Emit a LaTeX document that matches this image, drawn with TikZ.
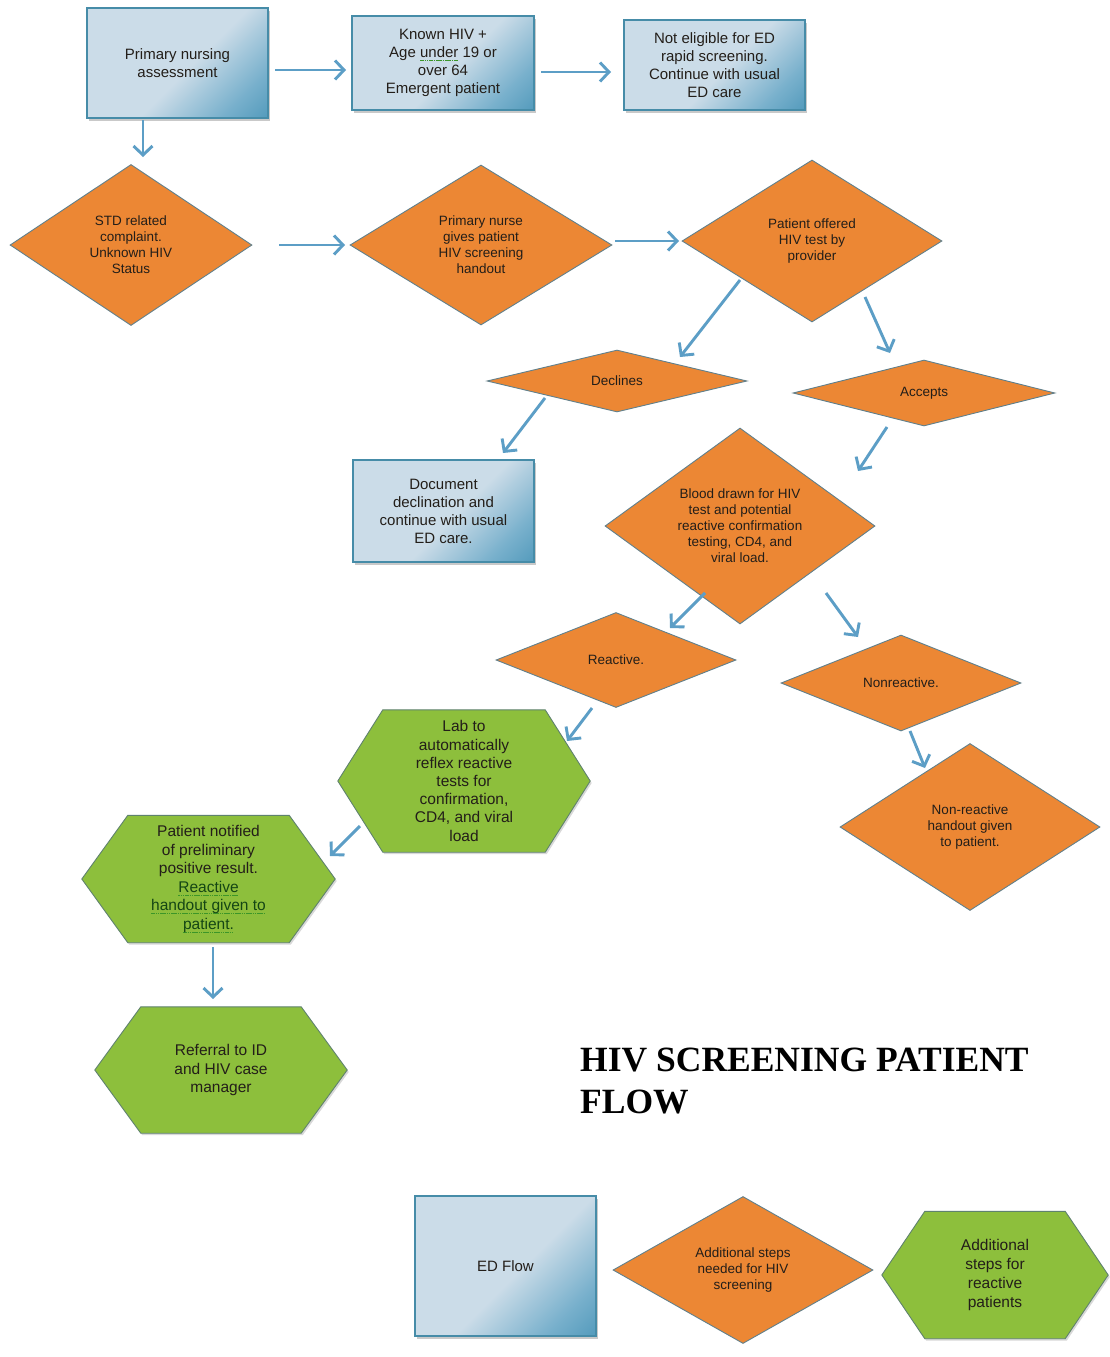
\documentclass[tikz,border=0pt]{standalone}
\usepackage{fontspec}
\setmainfont{Liberation Sans}
\newfontfamily\titlefont{Liberation Serif}
\usetikzlibrary{shapes.geometric,arrows.meta,shadows,backgrounds}

\definecolor{orng}{RGB}{236,135,52}
\definecolor{orngline}{RGB}{96,128,140}
\definecolor{grn}{RGB}{141,191,60}
\definecolor{grnline}{RGB}{95,130,110}
\definecolor{bxl}{RGB}{203,220,232}
\definecolor{bxm}{RGB}{120,176,204}
\definecolor{bxd}{RGB}{38,128,168}
\definecolor{bxline}{RGB}{70,140,168}
\definecolor{arrc}{RGB}{92,158,198}
\definecolor{txt}{RGB}{35,30,25}
\definecolor{gulc}{RGB}{60,150,40}
\definecolor{gtxt}{RGB}{20,70,20}

\pgfdeclarehorizontalshading{edblue}{100bp}{color(0bp)=(bxl); color(54bp)=(bxl); color(74bp)=(bxm); color(100bp)=(bxd)}

\newsavebox\gulbox
\newcommand\gul[1]{\sbox\gulbox{#1}\rlap{\raisebox{-0.4ex}{\textcolor{gulc}{\hbox to \wd\gulbox{\xleaders\hbox{\rule{1.6pt}{0.8pt}\hspace{0.6pt}}\hfill}}}}\usebox\gulbox}
\newcommand\hexof[2]{\path[hexpath] (#1.west) -- ([xshift=#2]#1.north west) -- ([xshift=-#2]#1.north east) -- (#1.east) -- ([xshift=-#2]#1.south east) -- ([xshift=#2]#1.south west) -- cycle;}

\tikzset{
  box/.style={rectangle, draw=bxline, line width=1.2pt, shading=edblue, shading angle=-45,
    drop shadow={shadow xshift=2pt, shadow yshift=-2.5pt, opacity=0.35, fill=black!60},
    align=center, font=\fontsize{15}{18}\selectfont, text=txt, inner sep=0pt},
  dia/.style={diamond, draw=orngline, line width=0.9pt, fill=orng, align=center,
    font=\fontsize{13.5}{16}\selectfont, text=txt, inner sep=0pt},
  dsz/.style n args={3}{minimum width=#1, minimum height=#2, aspect=#3},
  hexn/.style={rectangle, inner sep=0pt, align=center, text=txt},
  hexpath/.style={draw=grnline, fill=grn, line width=0.9pt,
    drop shadow={shadow xshift=1.5pt, shadow yshift=-2pt, opacity=0.25, fill=black!60}},
  arr/.style={draw=arrc, line width=2.9pt, -{Straight Barb[length=9pt,width=19pt]}},
}

\begin{document}
\begin{tikzpicture}[x=1pt, y=-1pt]
\useasboundingbox (0,0) rectangle (1110,1357);

% blue boxes
\node[box, minimum width=181, minimum height=110] (pna) at (177.5,63) {Primary nursing\\assessment};
\node[box, minimum width=182, minimum height=94] (known) at (443,63) {Known HIV +\\Age \gul{under} 19 or\\over 64\\Emergent patient};
\node[box, minimum width=181, minimum height=90] (notel) at (714.5,65) {Not eligible for ED\\rapid screening.\\Continue with usual\\ED care};
\node[box, minimum width=181, minimum height=102] (doc) at (443.5,511) {Document\\declination and\\continue with usual\\ED care.};
\node[box, minimum width=181, minimum height=140] (edf) at (505.5,1266) {ED Flow};

% diamonds
\node[dia, dsz={242}{161}{1.50}] (std) at (131,245) {STD related\\complaint.\\Unknown HIV\\Status};
\node[dia, dsz={262}{160}{1.64}] (nurse) at (481,245) {Primary nurse\\gives patient\\HIV screening\\handout};
\node[dia, dsz={260}{162}{1.60}] (off) at (812,241) {Patient offered\\HIV test by\\provider};
\node[dia, dsz={260}{62}{4.19}] (dec) at (617,381) {Declines};
\node[dia, dsz={262}{66}{3.97}] (acc) at (924,393) {Accepts};
\node[dia, dsz={270}{196}{1.38}] (blood) at (740,526) {Blood drawn for HIV\\test and potential\\reactive confirmation\\testing, CD4, and\\viral load.};
\node[dia, dsz={240}{95}{2.53}] (react) at (616,660) {Reactive.};
\node[dia, dsz={240}{96}{2.50}] (nonr) at (901,683) {Nonreactive.};
\node[dia, dsz={260}{167}{1.56}] (nrh) at (970,827) {Non-reactive\\handout given\\to patient.};
\node[dia, dsz={260}{147}{1.77}] (leg2) at (743,1270) {Additional steps\\needed for HIV\\screening};

% hexagon nodes
\node[hexn, minimum width=252, minimum height=142, font=\fontsize{15.5}{18.2}\selectfont] (lab) at (464,781) {Lab to\\automatically\\reflex reactive\\tests for\\confirmation,\\CD4, and viral\\load};
\node[hexn, minimum width=253, minimum height=127, font=\fontsize{15.5}{18.6}\selectfont] (notif) at (208.5,879) {Patient notified\\of preliminary\\positive result.\\\textcolor{gtxt}{\gul{Reactive}}\\\textcolor{gtxt}{\gul{handout given to}}\\\textcolor{gtxt}{\gul{patient.}}};
\node[hexn, minimum width=252, minimum height=126, font=\fontsize{15.5}{18.5}\selectfont] (ref) at (221,1070) {Referral to ID\\and HIV case\\manager};
\node[hexn, minimum width=226, minimum height=127, font=\fontsize{15.5}{19}\selectfont] (leg3) at (995,1275) {Additional\\steps for\\reactive\\patients};

\begin{scope}[on background layer]
\fill[white] (0,0) rectangle (1110,1357);
\hexof{lab}{45}
\hexof{notif}{46}
\hexof{ref}{46}
\hexof{leg3}{43}
\end{scope}

% title
\node[anchor=base west, align=left, inner sep=0pt, font=\titlefont\bfseries\fontsize{35.5}{42}\selectfont] (title) at (580,1113) {HIV SCREENING PATIENT\\FLOW};

% connectors
\draw[arr] ([shift={(97.5,7)}]pna.center) -- ([shift={(-97,7)}]known.center);
\draw[arr] ([shift={(98,9)}]known.center) -- ([shift={(-103.5,7)}]notel.center);
\draw[arr] ([shift={(-34.5,57)}]pna.center) -- ([shift={(12,-88)}]std.center);
\draw[arr] ([shift={(148,0)}]std.center) -- ([shift={(-136,0)}]nurse.center);
\draw[arr] ([shift={(134,-4)}]nurse.center) -- ([shift={(-133,0)}]off.center);
\draw[arr] ([shift={(-72,39)}]off.center) -- ([shift={(63,-24)}]dec.center);
\draw[arr] ([shift={(53,56)}]off.center) -- ([shift={(-34,-40)}]acc.center);
\draw[arr] ([shift={(-72,17)}]dec.center) -- ([shift={(59.5,-58)}]doc.center);
\draw[arr] ([shift={(-37,34)}]acc.center) -- ([shift={(118,-55)}]blood.center);
\draw[arr] ([shift={(-35,67)}]blood.center) -- ([shift={(54,-32)}]react.center);
\draw[arr] ([shift={(86,67)}]blood.center) -- ([shift={(-43,-46)}]nonr.center);
\draw[arr] ([shift={(-24,48)}]react.center) -- ([shift={(103,-40)}]lab.center);
\draw[arr] ([shift={(9,48)}]nonr.center) -- ([shift={(-45,-59)}]nrh.center);
\draw[arr] ([shift={(-104,45)}]lab.center) -- ([shift={(121.5,-23)}]notif.center);
\draw[arr] ([shift={(4.5,68)}]notif.center) -- ([shift={(-8,-71)}]ref.center);
\end{tikzpicture}
\end{document}
